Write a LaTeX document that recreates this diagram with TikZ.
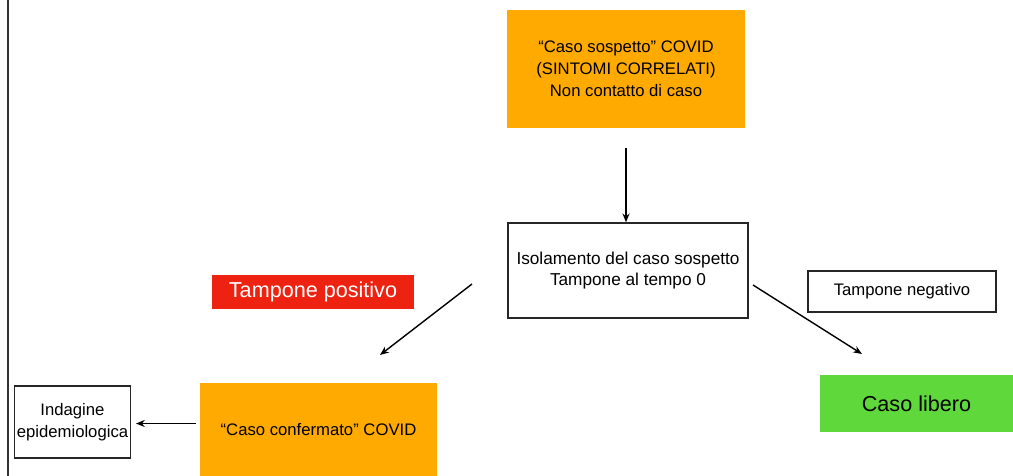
\documentclass[tikz,border=0pt]{standalone}
\usepackage{fontspec}
\setmainfont{Liberation Sans}
\usetikzlibrary{arrows.meta}

\definecolor{arancio}{RGB}{255,170,0}
\definecolor{rosso}{RGB}{238,34,17}
\definecolor{verde}{RGB}{94,216,58}

\begin{document}
\begin{tikzpicture}[x=0.02cm, y=-0.02cm,
  font=\fontsize{9.5}{12.4}\selectfont,
  box/.style={draw=black!85, line width=0.8pt, fill=white, align=center, inner sep=0pt},
  pienobox/.style={fill=#1, align=center, inner sep=0pt},
  freccia/.style={line width=0.8pt, -{Stealth[length=5pt,width=4pt]}}]

% page frame (pixel units, y downwards)
\useasboundingbox (0,0) rectangle (1013,476);
\draw[black!80, line width=0.8pt] (8,0) -- (8,476);

% Suspected case, then isolation
\node[pienobox=arancio, minimum width=4.76cm, minimum height=2.36cm] (sospetto) at (626,69)
  {``Caso sospetto'' COVID\\(SINTOMI CORRELATI)\\Non contatto di caso};
\node[box, minimum width=4.8cm, minimum height=1.9cm, font=\fontsize{9.8}{12.4}\selectfont] (isolamento) at (628,270.5)
  {Isolamento del caso sospetto\\Tampone al tempo 0};

% Swab results
\node[pienobox=rosso, text=white, font=\fontsize{12.3}{14}\selectfont,
  minimum width=4.04cm, minimum height=0.68cm] (positivo) at (313,292) {Tampone positivo};
\node[box, minimum width=3.76cm, minimum height=0.82cm] (negativo) at (902,291.5) {Tampone negativo};

% Outcomes
\node[pienobox=verde, font=\fontsize{12.3}{14}\selectfont,
  minimum width=3.86cm, minimum height=1.14cm] (libero) at (916.5,403.5) {Caso libero};
\node[pienobox=arancio, minimum width=4.74cm, minimum height=1.86cm] (confermato) at (318.5,429.5)
  {``Caso confermato'' COVID};
\node[box, minimum width=2.32cm, minimum height=1.44cm] (indagine) at (72.5,422)
  {Indagine\\epidemiologica};

% free ends of the arrows
\coordinate (sxA) at (472,284);
\coordinate (sxB) at (380,355);
\coordinate (dxA) at (753,285);
\coordinate (dxB) at (862,354);
\coordinate (bassoA) at (196,423.5);
\coordinate (bassoB) at (136,423.5);

\draw[freccia] (sospetto.south) ++(0,20) -- (sospetto.south |- isolamento.north);
\draw[freccia] (sxA) -- (sxB);
\draw[freccia] (dxA) -- (dxB);
\draw[freccia] (bassoA) -- (bassoB);

\end{tikzpicture}
\end{document}
